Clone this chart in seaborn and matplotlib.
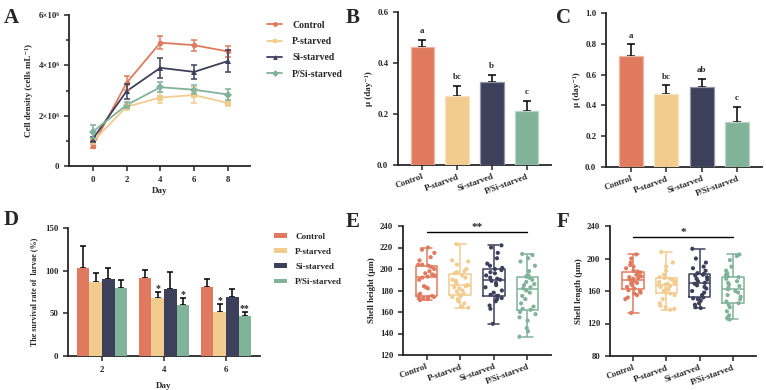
import numpy as np
import pandas as pd
import matplotlib
matplotlib.use('Agg')
import matplotlib.pyplot as plt
from matplotlib.lines import Line2D
from matplotlib.patches import Patch
from matplotlib.colors import to_rgb
import seaborn as sns

groups = ['Control', 'P-starved', 'Si-starved', 'P/Si-starved']
colors = ['#E07A5F', '#F2CC8F', '#3D405B', '#81B29A']
markers = ['o', 's', '^', 'D']

# A: cell density over time (mean, sd)
days_a = [0, 2, 4, 6, 8]
dens_control = [0.80e6, 3.30e6, 4.90e6, 4.80e6, 4.55e6]
dens_p = [0.97e6, 2.35e6, 2.72e6, 2.82e6, 2.50e6]
dens_si = [1.07e6, 2.97e6, 3.90e6, 3.74e6, 4.17e6]
dens_psi = [1.36e6, 2.42e6, 3.13e6, 3.03e6, 2.84e6]
err_control = [0.08e6, 0.28e6, 0.25e6, 0.22e6, 0.22e6]
err_p = [0.10e6, 0.12e6, 0.22e6, 0.30e6, 0.10e6]
err_si = [0.10e6, 0.30e6, 0.40e6, 0.28e6, 0.45e6]
err_psi = [0.25e6, 0.12e6, 0.20e6, 0.18e6, 0.20e6]

# B / C: growth rate
mu_b = [0.464, 0.270, 0.325, 0.213]
err_b = [0.026, 0.040, 0.028, 0.039]
letters_b = ['a', 'bc', 'b', 'c']
mu_c = [0.720, 0.472, 0.520, 0.292]
err_c = [0.077, 0.058, 0.054, 0.098]
letters_c = ['a', 'bc', 'ab', 'c']

# D: larval survival
days_d = ['2', '4', '6']
surv_control = [102.8, 91.8, 80.5]
surv_p = [87.0, 68.0, 51.2]
surv_si = [89.8, 78.0, 69.5]
surv_psi = [79.3, 60.2, 46.9]
serr_control = [26.5, 9.0, 9.3]
serr_p = [10.0, 6.6, 9.4]
serr_si = [13.0, 20.0, 9.0]
serr_psi = [9.7, 7.4, 4.3]
stars_control = ['', '', '']
stars_p = ['', '*', '*']
stars_si = ['', '', '']
stars_psi = ['', '*', '**']

# E: shell height (um)
height_control = [171, 172, 172, 173, 173, 174, 174, 175, 176, 177, 182, 183, 184, 190, 192,
                  193, 194, 195, 196, 198, 200, 202, 203, 204, 204, 208, 211, 215, 218, 220]
height_p = [164, 165, 168, 170, 172, 174, 175, 176, 177, 179, 180, 182, 183, 184, 185,
            185, 186, 188, 189, 190, 192, 194, 196, 197, 198, 200, 204, 207, 208, 223]
height_si = [149, 163, 166, 170, 172, 173, 175, 175, 176, 178, 180, 183, 185, 187, 189,
             190, 191, 192, 194, 196, 197, 199, 200, 201, 203, 205, 210, 215, 220, 222]
height_psi = [137, 142, 145, 152, 155, 158, 160, 162, 163, 165, 168, 172, 175, 178, 180,
              182, 183, 185, 186, 188, 190, 192, 193, 194, 198, 203, 207, 210, 213, 214]

# F: shell length (um)
length_control = [133, 150, 152, 155, 157, 158, 160, 161, 163, 165, 167, 169, 170, 172, 173, 174,
                  175, 176, 177, 178, 180, 181, 183, 184, 185, 188, 190, 192, 195, 200, 205]
length_p = [137, 138, 140, 142, 145, 150, 155, 157, 158, 160, 162, 163, 165, 166, 167,
            168, 169, 170, 171, 172, 174, 175, 176, 177, 178, 180, 185, 190, 195, 208]
length_si = [139, 140, 143, 145, 148, 150, 151, 152, 155, 158, 160, 163, 165, 167, 169,
             170, 172, 174, 175, 177, 179, 180, 181, 182, 185, 188, 190, 195, 200, 212]
length_psi = [125, 126, 127, 130, 135, 140, 143, 145, 147, 150, 153, 155, 158, 160, 162,
              164, 166, 168, 170, 172, 175, 177, 178, 180, 182, 185, 190, 198, 203, 205]

sns.set_style('ticks')
plt.rcParams['font.family'] = ['Liberation Serif', 'DejaVu Serif']
plt.rcParams['font.weight'] = 'bold'
plt.rcParams['axes.labelweight'] = 'bold'
plt.rcParams['axes.linewidth'] = 1.3
plt.rcParams['xtick.major.width'] = 1.1
plt.rcParams['ytick.major.width'] = 1.1
plt.rcParams['ytick.minor.width'] = 1.1
plt.rcParams['xtick.major.size'] = 3.5
plt.rcParams['ytick.major.size'] = 3.5
plt.rcParams['ytick.minor.size'] = 2.5
plt.rcParams['xtick.labelsize'] = 6.3
plt.rcParams['ytick.labelsize'] = 6.3
plt.rcParams['axes.labelsize'] = 6.5

W, H = 766, 390
fig = plt.figure(figsize=(W / 100, H / 100), dpi=100)


def add_ax(x0, y0, x1, y1):
    return fig.add_axes([x0 / W, 1 - y1 / H, (x1 - x0) / W, (y1 - y0) / H])


def lighten(c, f=0.45):
    r, g, b = to_rgb(c)
    return (r + (1 - r) * f, g + (1 - g) * f, b + (1 - b) * f)


def style_cat_ax(ax):
    sns.despine(ax=ax)
    ax.set_xlabel('')
    ax.set_xlim(-0.7, 3.7)
    ax.set_xticks(range(len(groups)))
    ax.set_xticklabels(groups, rotation=20, ha='right', rotation_mode='anchor')
    ax.tick_params(axis='x', pad=2)


# ---------- A ----------
ax = add_ax(69, 15, 250, 166)
df_a = pd.DataFrame({
    'Day': days_a * 4,
    'density': dens_control + dens_p + dens_si + dens_psi,
    'group': np.repeat(groups, len(days_a)),
})
sns.lineplot(data=df_a, x='Day', y='density', hue='group', style='group',
             palette=colors, markers=dict(zip(groups, markers)), dashes=False,
             markersize=4, markeredgewidth=0, linewidth=1.3, ax=ax, legend=False)
for dens, err, c in zip([dens_control, dens_p, dens_si, dens_psi],
                        [err_control, err_p, err_si, err_psi], colors):
    ax.errorbar(days_a, dens, yerr=err, fmt='none', ecolor=c, elinewidth=1.1, capsize=2, capthick=1.1)
ax.set_xlim(-1.4, 9.3)
ax.set_ylim(0, 6e6)
ax.set_xticks(days_a)
ax.set_yticks([0, 2e6, 4e6, 6e6])
ax.set_yticklabels(['0', '2×10⁶', '4×10⁶', '6×10⁶'])
ax.set_yticks([1e6, 3e6, 5e6], minor=True)
ax.set_xlabel('Day', labelpad=2)
ax.set_ylabel('Cell density (cells mL⁻¹)', labelpad=4)
sns.despine(ax=ax)
handles = [Line2D([0], [0], color=c, marker=m, markersize=3.5, markeredgewidth=0, lw=1.3)
           for c, m in zip(colors, markers)]
fig.legend(handles, groups, loc='upper left', bbox_to_anchor=(263 / W, 1 - 17 / H),
           frameon=False, fontsize=7, handlelength=1.6, labelspacing=0.75, handletextpad=1.0,
           borderaxespad=0)

# ---------- B & C ----------
for box, mu, err, letters, ylim, yticks in [
        ((398, 12, 551, 165), mu_b, err_b, letters_b, 0.6, [0, 0.2, 0.4, 0.6]),
        ((606, 13, 762, 167), mu_c, err_c, letters_c, 1.0, [0, 0.2, 0.4, 0.6, 0.8, 1.0])]:
    ax = add_ax(*box)
    df = pd.DataFrame({'group': groups, 'mu': mu})
    sns.barplot(data=df, x='group', y='mu', hue='group', palette=colors, width=0.68,
                saturation=1, linewidth=0.9, ax=ax, legend=False, zorder=3)
    for p, c in zip(ax.patches, colors):
        p.set_edgecolor(lighten(c))
    xs = np.arange(len(groups))
    ax.errorbar(xs, mu, yerr=[np.zeros(len(mu)), err], fmt='none', ecolor='black',
                elinewidth=1.1, capsize=3, capthick=1.1, zorder=2)
    for x, m, e, t in zip(xs, mu, err, letters):
        ax.text(x, m + e + ylim * 0.03, t, ha='center', va='bottom', fontsize=6.5, fontweight='bold')
    ax.set_ylim(0, ylim)
    ax.set_yticks(yticks)
    ax.set_yticklabels([f'{v:.1f}' for v in yticks])
    ax.set_ylabel('μ (day⁻¹)', labelpad=3)
    style_cat_ax(ax)

# ---------- D ----------
ax = add_ax(68, 228, 260, 356)
df_d = pd.DataFrame({
    'day': days_d * 4,
    'rate': surv_control + surv_p + surv_si + surv_psi,
    'group': np.repeat(groups, len(days_d)),
})
sns.barplot(data=df_d, x='day', y='rate', hue='group', palette=colors, width=0.82,
            saturation=1, linewidth=0, ax=ax, zorder=3)
ax.get_legend().remove()
for cont, errs, stars in zip(ax.containers, [serr_control, serr_p, serr_si, serr_psi],
                             [stars_control, stars_p, stars_si, stars_psi]):
    for bar, e, s in zip(cont, errs, stars):
        x = bar.get_x() + bar.get_width() / 2
        h = bar.get_height()
        ax.errorbar(x, h, yerr=[[0], [e]], fmt='none', ecolor='black', elinewidth=1.1,
                    capsize=2.5, capthick=1.1, zorder=2)
        if s:
            ax.text(x, h + e - 1, s, ha='center', va='bottom', fontsize=7, fontweight='bold')
ax.set_ylim(0, 150)
ax.set_yticks([0, 50, 100, 150])
ax.set_xlabel('Day', labelpad=6)
ax.set_ylabel('The survival rate of  larvae (%)', labelpad=5, fontsize=5.8)
sns.despine(ax=ax)
handles = [Patch(facecolor=c, edgecolor='none') for c in colors]
fig.legend(handles, groups, loc='upper left', bbox_to_anchor=(270 / W, 1 - 229 / H),
           frameon=False, fontsize=6.5, handlelength=1.5, handleheight=0.45,
           labelspacing=0.8, handletextpad=0.9, borderaxespad=0)

# ---------- E & F ----------
for box, vals, ylim, yticks, ylabel, sig_y, sig in [
        ((403, 226, 551, 355), [height_control, height_p, height_si, height_psi],
         (120, 240), [120, 140, 160, 180, 200, 220, 240], 'Shell height (μm)', 234, '**'),
        ((610, 226, 756, 356), [length_control, length_p, length_si, length_psi],
         (80, 240), [80, 120, 160, 200, 240], 'Shell length (μm)', 226, '*')]:
    ax = add_ax(*box)
    df = pd.DataFrame({
        'group': np.concatenate([[g] * len(v) for g, v in zip(groups, vals)]),
        'value': np.concatenate(vals),
    })
    sns.boxplot(data=df, x='group', y='value', hue='group', palette=colors, fill=False,
                saturation=1, whis=(0, 100), width=0.65, linewidth=1.1, ax=ax, legend=False)
    sns.stripplot(data=df, x='group', y='value', hue='group', palette=colors, size=3,
                  jitter=0.25, ax=ax, legend=False, zorder=4)
    ax.plot([0, 3], [sig_y, sig_y], color='black', lw=1.0)
    ax.text(1.5, sig_y + (ylim[1] - ylim[0]) * 0.005, sig, ha='center', va='bottom',
            fontsize=8, fontweight='bold')
    ax.set_ylim(*ylim)
    ax.set_yticks(yticks)
    ax.set_ylabel(ylabel, labelpad=3)
    style_cat_ax(ax)

# panel letters
for t, x, y in [('A', 4, 8), ('B', 346, 8), ('C', 556, 8), ('D', 4, 210), ('E', 346, 212), ('F', 557, 212)]:
    fig.text(x / W, 1 - y / H, t, fontsize=15, fontweight='bold', va='top', ha='left')

fig.savefig('out.png', dpi=100)
